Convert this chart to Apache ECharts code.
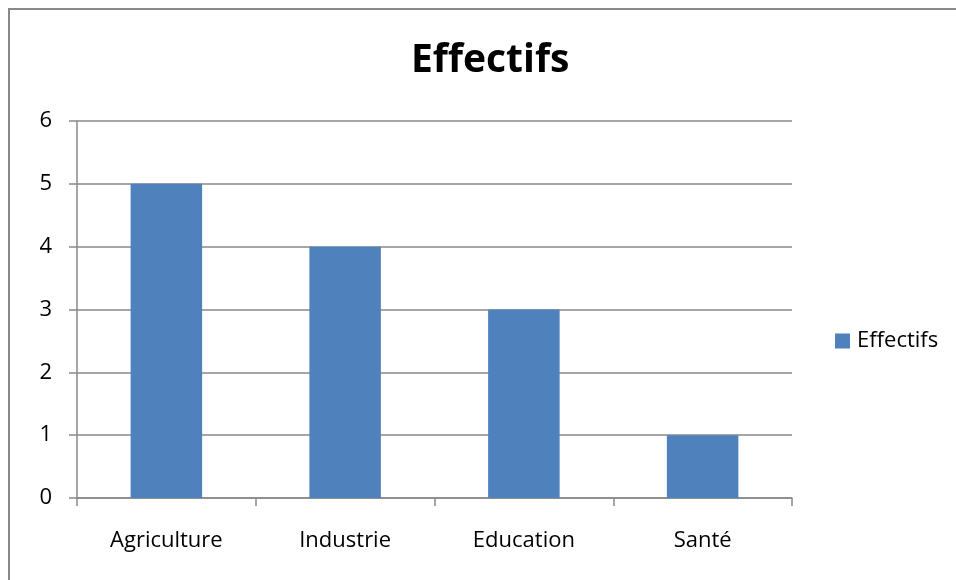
<!DOCTYPE html>
<html>
<head>
<meta charset="utf-8">
<script src="https://cdn.jsdelivr.net/npm/echarts@6/dist/echarts.min.js"></script>
<style>
  html, body { margin: 0; padding: 0; background: #fff; }
  #chart { width: 956px; height: 580px; }
</style>
</head>
<body>
<div id="chart"></div>
<script>
const chartTitle = 'Effectifs';
const categories = ['Agriculture', 'Industrie', 'Education', 'Santé'];
const seriesName = 'Effectifs';
const effectifs = [5, 4, 3, 1];
const yMin = 0, yMax = 6, yStep = 1;

const FONT = '"Open Sans", "Liberation Sans", sans-serif';
const GRAY = '#898989';

const chart = echarts.init(document.getElementById('chart'), null, { renderer: 'canvas' });
chart.setOption({
  animation: false,
  backgroundColor: '#ffffff',
  title: {
    text: chartTitle,
    left: 411, top: 41,
    padding: 0,
    textStyle: { fontFamily: FONT, fontWeight: 'bold', fontSize: 39, color: '#000' }
  },
  legend: {
    data: [seriesName],
    orient: 'vertical',
    left: 835, top: 330,
    padding: 0,
    itemWidth: 15, itemHeight: 15, itemGap: 6,
    icon: 'rect',
    textStyle: { fontFamily: FONT, fontSize: 22, color: '#000', padding: [0, 0, 0, 2] }
  },
  grid: { left: 77, right: 164, top: 121, bottom: 82 },
  xAxis: {
    type: 'category',
    data: categories,
    axisLine: { lineStyle: { color: GRAY, width: 1.5 } },
    axisTick: { show: true, alignWithLabel: false, length: 8, lineStyle: { color: GRAY, width: 1.5 } },
    axisLabel: { fontFamily: FONT, fontSize: 22, color: '#000', margin: 32 }
  },
  yAxis: {
    type: 'value',
    min: yMin, max: yMax, interval: yStep,
    axisLine: { show: true, lineStyle: { color: GRAY, width: 1.5 } },
    axisTick: { show: true, length: 8, lineStyle: { color: GRAY, width: 1.5 } },
    splitLine: { show: true, lineStyle: { color: GRAY, width: 1.5 } },
    axisLabel: { fontFamily: FONT, fontSize: 22, color: '#000', margin: 25 }
  },
  series: [{
    name: seriesName,
    type: 'bar',
    data: effectifs,
    barWidth: '40%',
    itemStyle: { color: '#4F81BD' }
  }],
  graphic: [{
    type: 'rect',
    shape: { x: 9, y: 9, width: 1100, height: 1100 },
    style: { fill: 'none', stroke: GRAY, lineWidth: 2 },
    silent: true
  }]
});
</script>
</body>
</html>
